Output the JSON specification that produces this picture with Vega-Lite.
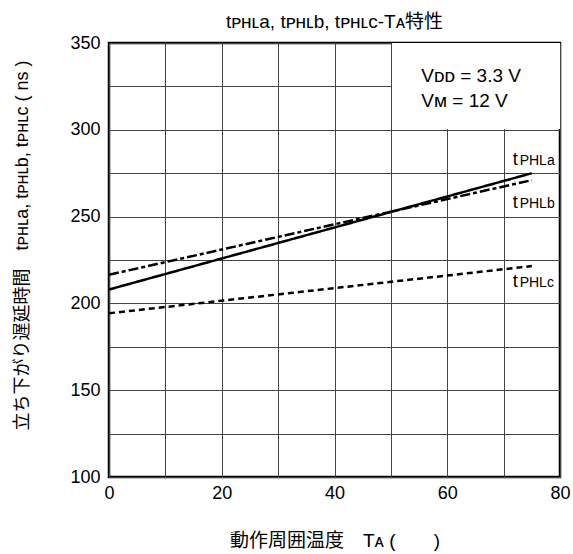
{
  "$schema": "https://vega.github.io/schema/vega-lite/v6.json",
  "width": 451,
  "height": 434,
  "autosize": "none",
  "padding": {"left": 109, "top": 43, "right": 13, "bottom": 77},
  "background": "white",
  "config": {
    "font": "Liberation Sans, Noto Sans CJK JP, DejaVu Sans",
    "view": {"stroke": "black", "strokeWidth": 2.5},
    "axis": {"labelColor": "black", "titleColor": "black", "labelFont": "Liberation Sans", "titleFont": "Liberation Sans, Noto Sans CJK JP, DejaVu Sans", "titleFontWeight": "normal"}
  },
  "title": {
    "text": "tᴘʜʟa, tᴘʜʟb, tᴘʜʟc-Tᴀ特性",
    "fontSize": 19,
    "fontWeight": "normal",
    "color": "black",
    "font": "Liberation Sans, Noto Sans CJK JP, DejaVu Sans",
    "frame": "group",
    "offset": 2
  },
  "datasets": {
    "lines": [
      {"series": "tPHLa", "ta": 0, "t": 208},
      {"series": "tPHLa", "ta": 75, "t": 275},
      {"series": "tPHLb", "ta": 0, "t": 216.5},
      {"series": "tPHLb", "ta": 75, "t": 271},
      {"series": "tPHLc", "ta": 0, "t": 194.3},
      {"series": "tPHLc", "ta": 75, "t": 221.5}
    ],
    "labels": [
      {"main": "t", "sub": "PHLa", "ta": 71.6, "t": 279.7},
      {"main": "t", "sub": "PHLb", "ta": 71.6, "t": 254.8},
      {"main": "t", "sub": "PHLc", "ta": 71.6, "t": 209.6}
    ],
    "cond": [
      {"label": "Vᴅᴅ = 3.3 V", "ta": 55.4, "t": 327.7},
      {"label": "Vᴍ = 12 V", "ta": 55.4, "t": 313.3}
    ],
    "box": [
      {"x1": 50.2, "x2": 80, "y1": 300.5, "y2": 350}
    ]
  },
  "layer": [
    {
      "data": {"name": "box"},
      "mark": {"type": "rect", "color": "white", "opacity": 1},
      "encoding": {
        "x": {"field": "x1", "type": "quantitative"},
        "x2": {"field": "x2"},
        "y": {"field": "y1", "type": "quantitative"},
        "y2": {"field": "y2"}
      }
    },
    {
      "data": {"name": "lines"},
      "mark": {"type": "line", "strokeWidth": 2.5, "color": "black", "strokeCap": "butt"},
      "encoding": {
        "x": {
          "field": "ta", "type": "quantitative",
          "scale": {"domain": [0, 80], "nice": false, "zero": false},
          "axis": {
            "values": [0, 10, 20, 30, 40, 50, 60, 70, 80],
            "labelExpr": "datum.value % 20 === 0 ? datum.label : ''",
            "grid": true, "gridColor": "#444", "gridWidth": 1, "gridOpacity": 1,
            "ticks": false, "domain": false,
            "labelFontSize": 18, "labelPadding": 7, "labelFlush": false,
            "title": "動作周囲温度　Tᴀ (　　)",
            "titleFontSize": 19, "titlePadding": 29
          }
        },
        "y": {
          "field": "t", "type": "quantitative",
          "scale": {"domain": [100, 350], "nice": false, "zero": false},
          "axis": {
            "values": [100, 125, 150, 175, 200, 225, 250, 275, 300, 325, 350],
            "labelExpr": "datum.value % 50 === 0 ? datum.label : ''",
            "grid": true, "gridColor": "#444", "gridWidth": 1, "gridOpacity": 1,
            "ticks": false, "domain": false,
            "labelFontSize": 18, "labelPadding": 9,
            "title": "立ち下がり遅延時間　tᴘʜʟa, tᴘʜʟb, tᴘʜʟc ( ns )",
            "titleFontSize": 18, "titlePadding": 38, "titleY": 202
          }
        },
        "detail": {"field": "series"},
        "strokeDash": {
          "field": "series", "type": "nominal",
          "scale": {"domain": ["tPHLa", "tPHLb", "tPHLc"], "range": [[1, 0], [10, 3, 4, 3], [6, 4]]},
          "legend": null
        }
      }
    },
    {
      "data": {"name": "labels"},
      "mark": {"type": "text", "align": "left", "baseline": "alphabetic", "fontSize": 18, "color": "black", "font": "Liberation Sans"},
      "encoding": {
        "x": {"field": "ta", "type": "quantitative"},
        "y": {"field": "t", "type": "quantitative"},
        "text": {"field": "main"}
      }
    },
    {
      "data": {"name": "labels"},
      "mark": {"type": "text", "align": "left", "baseline": "alphabetic", "fontSize": 14, "dx": 7, "color": "black", "font": "Liberation Sans"},
      "encoding": {
        "x": {"field": "ta", "type": "quantitative"},
        "y": {"field": "t", "type": "quantitative"},
        "text": {"field": "sub"}
      }
    },
    {
      "data": {"name": "cond"},
      "mark": {"type": "text", "align": "left", "baseline": "alphabetic", "fontSize": 19, "color": "black", "font": "Liberation Sans, DejaVu Sans"},
      "encoding": {
        "x": {"field": "ta", "type": "quantitative"},
        "y": {"field": "t", "type": "quantitative"},
        "text": {"field": "label"}
      }
    }
  ]
}
